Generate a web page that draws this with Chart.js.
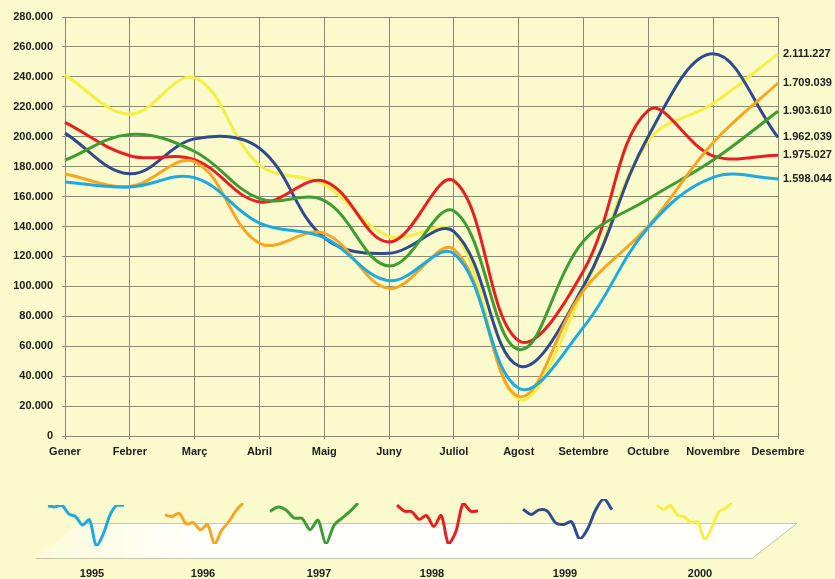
<!DOCTYPE html>
<html>
<head>
<meta charset="utf-8">
<script src="https://cdn.jsdelivr.net/npm/chart.js@4"></script>
<style>
  html, body { margin: 0; padding: 0; background: #fafacd; }
  #wrap { position: relative; width: 835px; height: 579px; overflow: hidden; }
  #wrap canvas { position: absolute; }
</style>
</head>
<body>
<div id="wrap">
  <canvas id="main" width="835" height="579" style="left:0;top:0"></canvas>
</div>
<script>
// Monthly visitors, one array per year
const months = ['Gener', 'Febrer', 'Març', 'Abril', 'Maig', 'Juny', 'Juliol', 'Agost', 'Setembre', 'Octubre', 'Novembre', 'Desembre'];
const years = ['1995', '1996', '1997', '1998', '1999', '2000'];

const visitors1995 = [169812, 166358, 172605, 142287, 132540, 103816, 121871, 31894, 72730, 139512, 172796, 171823];
const visitors1996 = [175120, 166905, 183264, 128817, 135402, 98655, 124731, 26488, 97346, 140279, 196143, 235889];
const visitors1997 = [184318, 201457, 190126, 158603, 157244, 113580, 150372, 57815, 130264, 158427, 184390, 217014];
const visitors1998 = [209546, 187312, 184705, 156418, 170263, 129651, 170534, 63720, 110382, 217596, 187243, 187657];
const visitors1999 = [202385, 175208, 198564, 192327, 132476, 122130, 136591, 46812, 100245, 200318, 255407, 199576];
const visitors2000 = [241163, 215084, 239352, 181207, 168115, 133460, 136218, 24671, 97136, 197240, 222185, 255396];

const yTickStep = 20000;
const yMax = 280000;

const seriesData = [visitors1995, visitors1996, visitors1997, visitors1998, visitors1999, visitors2000];
const seriesColors = ['#1ea9e1', '#f6a623', '#3f9c33', '#e5201f', '#2f4a8f', '#f4ef45'];

const FONT = '"Liberation Sans", Arial, sans-serif';
const TEXT = '#202020';

// 1234567 -> "1.234.567"
function dotted(n) {
  return String(Math.round(n)).replace(/\B(?=(\d{3})+(?!\d))/g, '.');
}

// Annual total written next to the December point of each line
const endLabels = {
  id: 'endLabels',
  afterDatasetsDraw(chart) {
    const ctx = chart.ctx;
    ctx.save();
    ctx.font = 'bold 11px ' + FONT;
    ctx.fillStyle = TEXT;
    ctx.textBaseline = 'middle';
    ctx.textAlign = 'left';
    chart.data.datasets.forEach((ds, i) => {
      const meta = chart.getDatasetMeta(i);
      const last = meta.data[meta.data.length - 1];
      const total = ds.data.reduce((a, b) => a + b, 0);
      ctx.fillText(dotted(total), last.x + 5, last.y);
    });
    ctx.restore();
  }
};

// White slanted strip under the small year curves, plus the year captions
const yearStrip = {
  id: 'yearStrip',
  afterDraw(chart) {
    const ctx = chart.ctx;
    ctx.save();
    const g = ctx.createLinearGradient(36, 0, 200, 0);
    g.addColorStop(0, 'rgba(255,255,250,0.3)');
    g.addColorStop(1, 'rgba(255,255,252,1)');
    ctx.beginPath();
    ctx.moveTo(80, 523);
    ctx.lineTo(797, 523);
    ctx.lineTo(752, 558);
    ctx.lineTo(36, 558);
    ctx.closePath();
    ctx.fillStyle = g;
    ctx.fill();
    ctx.strokeStyle = 'rgba(150,150,140,0.55)';
    ctx.lineWidth = 1;
    ctx.beginPath();
    ctx.moveTo(80, 523.5); ctx.lineTo(797, 523.5); ctx.lineTo(752, 558.5); ctx.lineTo(36, 558.5);
    ctx.stroke();

    ctx.font = 'bold 11px ' + FONT;
    ctx.fillStyle = TEXT;
    ctx.textAlign = 'center';
    ctx.textBaseline = 'middle';
    const captionX = [92, 203, 319, 432, 565, 700];
    years.forEach((y, i) => ctx.fillText(y, captionX[i], 574));
    ctx.restore();
  }
};

Chart.defaults.font.family = FONT;
Chart.defaults.color = TEXT;

const gridColor = '#8a897a';

new Chart(document.getElementById('main'), {
  type: 'line',
  data: {
    labels: months,
    datasets: years.map((y, i) => ({
      label: y,
      data: seriesData[i],
      borderColor: seriesColors[i],
      borderWidth: 3,
      pointRadius: 0,
      tension: 0.38,
      fill: false
    }))
  },
  options: {
    responsive: false,
    animation: false,
    events: [],
    layout: { padding: { top: 17, right: 57, bottom: 113, left: 0 } },
    plugins: { legend: { display: false }, tooltip: { enabled: false } },
    scales: {
      x: {
        grid: { color: gridColor, lineWidth: 1, tickLength: 3 },
        border: { color: gridColor },
        ticks: { font: { size: 11, weight: 'bold' }, padding: 6, maxRotation: 0, autoSkip: false, color: TEXT },
        afterFit(s) { s.height = 30; }
      },
      y: {
        min: 0,
        max: yMax,
        grid: { color: gridColor, lineWidth: 1, tickLength: 3 },
        border: { color: gridColor },
        ticks: {
          stepSize: yTickStep,
          font: { size: 11, weight: 'bold' },
          padding: 9,
          color: TEXT,
          callback: v => dotted(v)
        },
        afterFit(s) { s.width = 65; }
      }
    }
  },
  plugins: [endLabels, yearStrip]
});

// Small curves of each year above the strip
const sparkBoxes = [
  [46, 503, 80, 45],
  [163, 501, 82, 45],
  [268, 501, 92, 45],
  [395, 501, 85, 45],
  [521, 497, 93, 44],
  [655, 501, 79, 41]
];
const wrap = document.getElementById('wrap');
seriesData.forEach((data, i) => {
  const [x, y, w, h] = sparkBoxes[i];
  const c = document.createElement('canvas');
  c.width = w; c.height = h;
  c.style.left = x + 'px'; c.style.top = y + 'px';
  wrap.appendChild(c);
  new Chart(c, {
    type: 'line',
    data: { labels: months, datasets: [{ data, borderColor: seriesColors[i], borderWidth: 3, pointRadius: 0, tension: 0.3, fill: false }] },
    options: {
      responsive: false,
      animation: false,
      events: [],
      layout: { padding: 2 },
      plugins: { legend: { display: false }, tooltip: { enabled: false } },
      scales: {
        x: { display: false },
        y: { display: false, min: Math.min(...data), max: Math.max(...data) }
      }
    }
  });
});
</script>
</body>
</html>
